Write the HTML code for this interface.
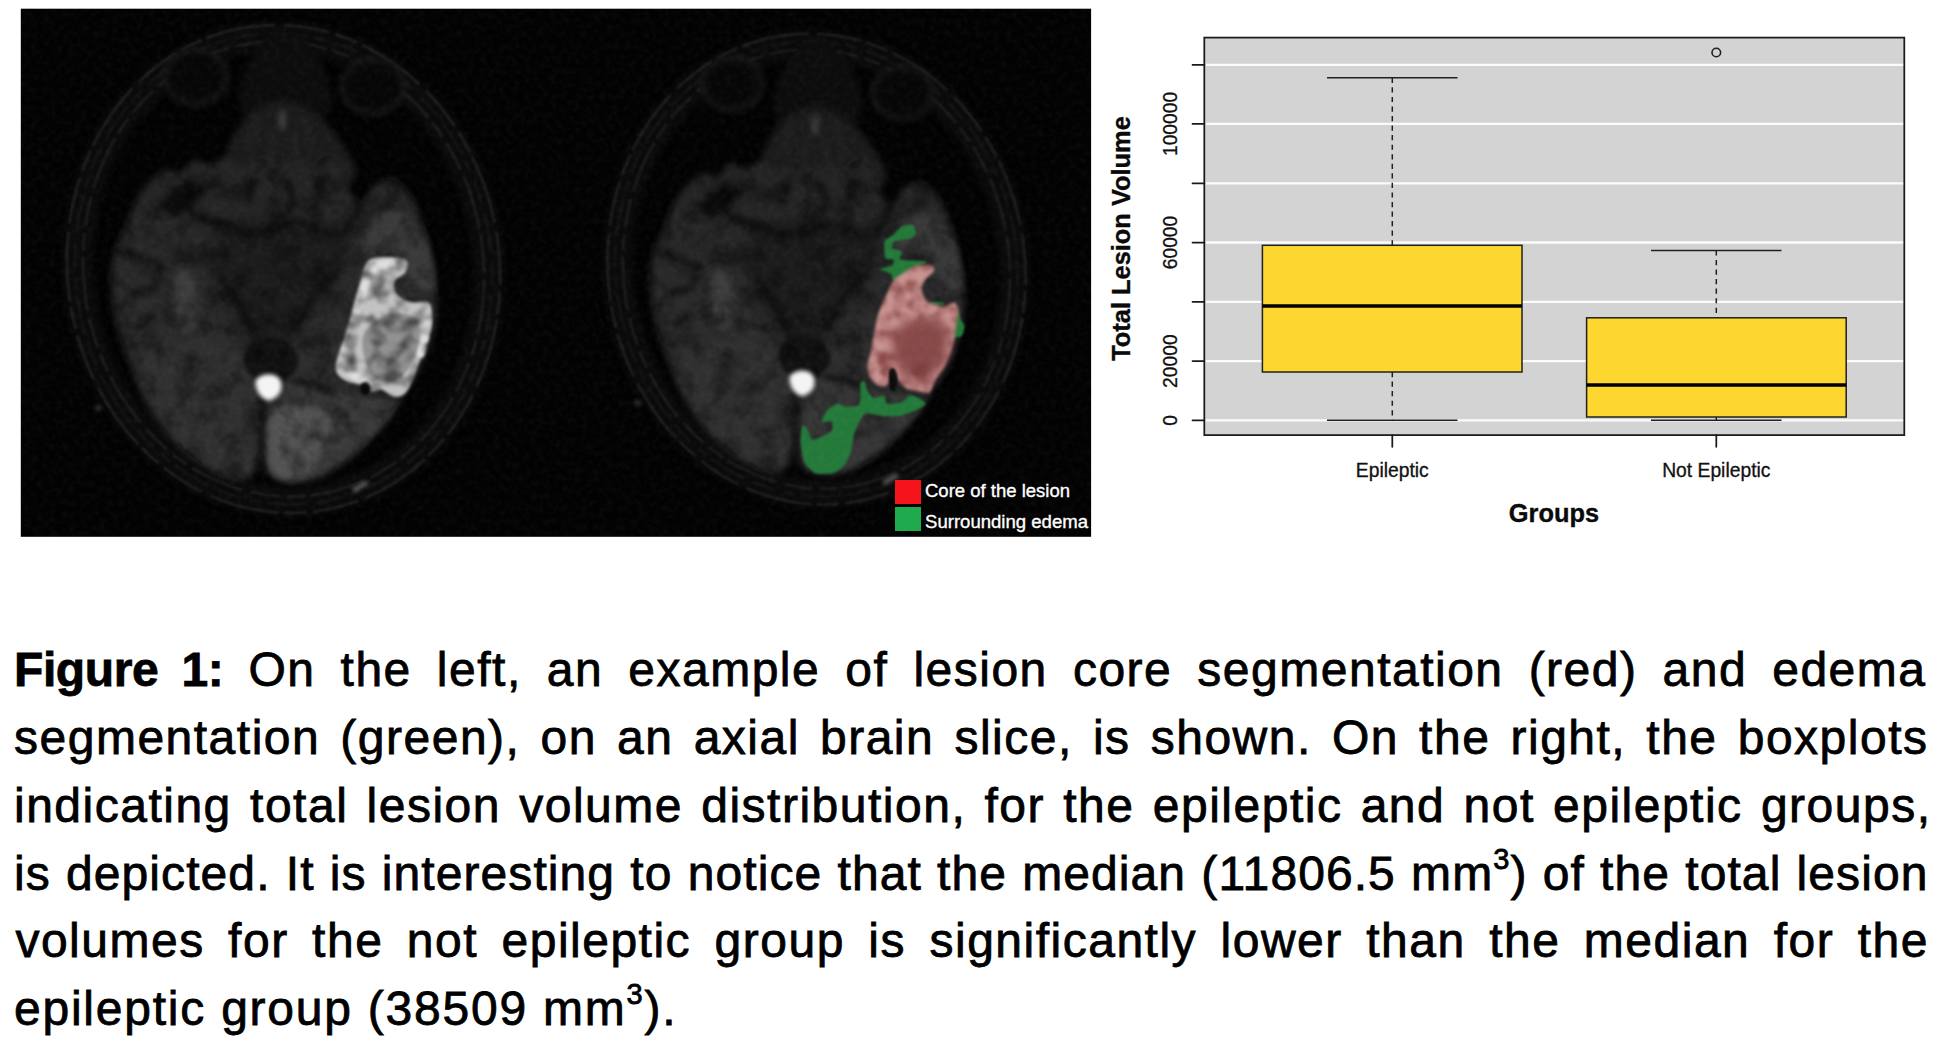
<!DOCTYPE html>
<html>
<head>
<meta charset="utf-8">
<title>Figure 1</title>
<style>
html,body{margin:0;padding:0;background:#fff;}
body{width:1944px;height:1046px;position:relative;overflow:hidden;font-family:"Liberation Sans",sans-serif;color:#000;}
#fig{position:absolute;left:0;top:0;width:1944px;height:1046px;}
svg text{font-family:"Liberation Sans",sans-serif;}
.cap{position:absolute;left:14px;width:1910px;height:60px;font-size:48px;line-height:60px;white-space:nowrap;color:#000;letter-spacing:1.5px;text-align:justify;text-align-last:justify;-webkit-text-stroke:0.8px #000;}
.cap b{font-weight:bold;letter-spacing:-0.4px;}
.cap sup{font-size:29px;line-height:0;vertical-align:baseline;position:relative;top:-21px;}
</style>
</head>
<body>
<svg id="fig" width="1944" height="1046" viewBox="0 0 1944 1046">
<defs>
<filter id="b2" color-interpolation-filters="sRGB" x="-20%" y="-20%" width="140%" height="140%"><feGaussianBlur stdDeviation="2"/></filter>
<filter id="b3" color-interpolation-filters="sRGB" x="-20%" y="-20%" width="140%" height="140%"><feGaussianBlur stdDeviation="3.2"/></filter>
<filter id="b6" color-interpolation-filters="sRGB" x="-30%" y="-30%" width="160%" height="160%"><feGaussianBlur stdDeviation="6"/></filter>
<filter id="b1" color-interpolation-filters="sRGB" x="-20%" y="-20%" width="140%" height="140%"><feGaussianBlur stdDeviation="1.1"/></filter>
<clipPath id="mriclip"><rect x="21" y="9" width="1070" height="528"/></clipPath>
<!--BRAINDEF-->
<linearGradient id="tg" gradientUnits="userSpaceOnUse" x1="0" y1="170" x2="0" y2="480"><stop offset="0" stop-color="#232323"/><stop offset="0.5" stop-color="#2b2b2b"/><stop offset="1" stop-color="#303030"/></linearGradient>
<filter id="nz" color-interpolation-filters="sRGB" x="0" y="0" width="100%" height="100%"><feTurbulence type="fractalNoise" baseFrequency="0.16" numOctaves="2" seed="7" result="t"/><feColorMatrix in="t" type="matrix" values="0 0 0 0 1  0 0 0 0 1  0 0 0 0 1  1.6 0 0 0 -0.62"/><feComposite in2="SourceGraphic" operator="in"/></filter>
<filter id="mott" color-interpolation-filters="sRGB" x="0" y="0" width="100%" height="100%"><feTurbulence type="fractalNoise" baseFrequency="0.045" numOctaves="3" seed="5" result="t"/><feColorMatrix in="t" type="matrix" values="0 0 0 0 0  0 0 0 0 0  0 0 0 0 0  2.6 0 0 0 -1.05"/><feComposite in2="SourceGraphic" operator="in"/></filter>
<clipPath id="tclip"><path d="M163.7 170.1C157.0 173.4 146.4 184.6 140.3 193.5C134.1 202.4 131.3 213.0 126.9 223.6C122.4 234.2 116.0 246.0 113.5 257.1C111.0 268.3 111.2 279.4 111.8 290.6C112.4 301.7 113.8 311.8 116.8 324.1C119.9 336.3 125.2 350.8 130.2 364.2C135.2 377.6 139.1 391.0 146.9 404.4C154.8 417.8 165.9 433.4 177.1 444.6C188.2 455.7 203.3 465.5 213.9 471.3C224.5 477.2 234.0 479.7 240.7 479.7C247.4 479.7 250.7 475.8 254.1 471.3C257.4 466.9 258.5 452.9 260.8 452.9C263.0 452.9 263.0 466.6 267.4 471.3C271.9 476.1 278.6 480.5 287.5 481.4C296.5 482.2 309.8 480.8 321.0 476.4C332.2 471.9 344.4 463.2 354.5 454.6C364.5 446.0 373.4 434.0 381.3 424.5C389.1 415.0 394.6 407.7 401.3 397.7C408.0 387.7 415.8 376.5 421.4 364.2C427.0 352.0 432.5 337.4 434.8 324.1C437.2 310.7 436.6 297.3 435.5 283.9C434.4 270.5 431.6 257.1 428.1 243.7C424.7 230.3 420.3 214.2 414.7 203.6C409.1 193.0 401.3 183.2 394.6 180.1C387.9 177.1 380.1 181.2 374.6 185.1C369.0 189.1 365.6 203.3 361.2 203.6C356.7 203.8 350.6 193.5 347.8 186.8C345.0 180.1 347.8 168.7 344.4 163.4C341.1 158.1 333.3 154.7 327.7 155.0C322.1 155.3 316.5 164.8 311.0 165.1C305.4 165.3 299.8 156.4 294.2 156.7C288.6 157.0 283.1 166.5 277.5 166.7C271.9 167.0 266.3 158.4 260.8 158.4C255.2 158.4 249.6 167.0 244.0 166.7C238.4 166.5 232.9 157.0 227.3 156.7C221.7 156.4 216.1 164.5 210.5 165.1C205.0 165.6 198.8 158.6 193.8 160.0C188.8 161.4 185.4 171.8 180.4 173.4C175.4 175.1 170.4 166.7 163.7 170.1Z"/></clipPath>
<filter id="grain" color-interpolation-filters="sRGB" x="-10%" y="-10%" width="120%" height="120%"><feTurbulence type="fractalNoise" baseFrequency="0.07" numOctaves="2" seed="11" result="n"/><feColorMatrix in="n" type="matrix" values="0 0 0 0 0  0 0 0 0 0  0 0 0 0 0  1.3 0 0 0 -0.5" result="a"/><feComposite in="a" in2="SourceGraphic" operator="in" result="dark"/><feMerge result="m"><feMergeNode in="SourceGraphic"/><feMergeNode in="dark"/></feMerge><feGaussianBlur in="m" stdDeviation="1.5"/></filter>
<filter id="grain2" color-interpolation-filters="sRGB" x="-10%" y="-10%" width="120%" height="120%"><feTurbulence type="fractalNoise" baseFrequency="0.085" numOctaves="2" seed="11" result="n"/><feColorMatrix in="n" type="matrix" values="0 0 0 0 0.35  0 0 0 0 0.05  0 0 0 0 0.05  1.2 0 0 0 -0.45" result="a"/><feComposite in="a" in2="SourceGraphic" operator="in" result="dark"/><feMerge result="m"><feMergeNode in="SourceGraphic"/><feMergeNode in="dark"/></feMerge><feGaussianBlur in="m" stdDeviation="1.1"/></filter>
<g id="brain">
<g filter="url(#b3)">
<ellipse cx="283.5" cy="269.0" rx="205.0" ry="233.0" fill="none" stroke="#0a0a0a" stroke-width="30" transform="rotate(-8 283.5 269.0)"/>
</g>
<g filter="url(#b1)">
<ellipse cx="283.5" cy="269.0" rx="216.0" ry="244.5" fill="none" stroke="#222222" stroke-width="2.2" stroke-dasharray="46 7 23 5 70 9" transform="rotate(-8 283.5 269.0)"/>
<ellipse cx="283.5" cy="269.0" rx="200.0" ry="228.0" fill="none" stroke="#1e1e1e" stroke-width="2.4" stroke-dasharray="30 8 55 6 18 7" transform="rotate(-8 283.5 269.0)"/>
<ellipse cx="283.5" cy="269.0" rx="208.0" ry="236.0" fill="none" stroke="#161616" stroke-width="2" stroke-dasharray="12 9 25 9 40 6" transform="rotate(-8 283.5 269.0)"/>
</g>
<g filter="url(#b3)">
<ellipse cx="196.0" cy="77.0" rx="31" ry="27" fill="#060606" stroke="#1b1b1b" stroke-width="4"/>
<ellipse cx="373.0" cy="86.5" rx="31" ry="27" fill="#060606" stroke="#1b1b1b" stroke-width="4"/>
<path d="M250.0 60.0C257.5 46.7 273.3 30.0 285.0 30.0C296.7 30.0 312.5 46.7 320.0 60.0C327.5 73.3 333.3 96.7 330.0 110.0C326.7 123.3 310.0 135.0 300.0 140.0C290.0 145.0 280.0 145.0 270.0 140.0C260.0 135.0 243.3 123.3 240.0 110.0C236.7 96.7 242.5 73.3 250.0 60.0Z" fill="#0c0c0c"/>
</g>
<g filter="url(#b3)">
<path d="M221.9 175.6C219.8 166.3 226.1 154.1 229.5 145.3C232.9 136.5 237.1 128.9 242.1 122.6C247.2 116.3 253.0 111.2 259.8 107.4C266.5 103.6 274.9 99.9 282.5 99.9C290.1 99.9 298.1 103.6 305.2 107.4C312.4 111.2 319.1 116.3 325.4 122.6C331.7 128.9 338.0 136.5 343.1 145.3C348.1 154.1 359.1 166.3 355.7 175.6C352.3 184.8 335.1 196.2 322.9 200.8C310.7 205.4 296.0 203.3 282.5 203.3C269.0 203.3 252.2 205.4 242.1 200.8C232.0 196.2 224.0 184.8 221.9 175.6Z" fill="#1a1a1a"/>
<path d="M163.7 170.1C157.0 173.4 146.4 184.6 140.3 193.5C134.1 202.4 131.3 213.0 126.9 223.6C122.4 234.2 116.0 246.0 113.5 257.1C111.0 268.3 111.2 279.4 111.8 290.6C112.4 301.7 113.8 311.8 116.8 324.1C119.9 336.3 125.2 350.8 130.2 364.2C135.2 377.6 139.1 391.0 146.9 404.4C154.8 417.8 165.9 433.4 177.1 444.6C188.2 455.7 203.3 465.5 213.9 471.3C224.5 477.2 234.0 479.7 240.7 479.7C247.4 479.7 250.7 475.8 254.1 471.3C257.4 466.9 258.5 452.9 260.8 452.9C263.0 452.9 263.0 466.6 267.4 471.3C271.9 476.1 278.6 480.5 287.5 481.4C296.5 482.2 309.8 480.8 321.0 476.4C332.2 471.9 344.4 463.2 354.5 454.6C364.5 446.0 373.4 434.0 381.3 424.5C389.1 415.0 394.6 407.7 401.3 397.7C408.0 387.7 415.8 376.5 421.4 364.2C427.0 352.0 432.5 337.4 434.8 324.1C437.2 310.7 436.6 297.3 435.5 283.9C434.4 270.5 431.6 257.1 428.1 243.7C424.7 230.3 420.3 214.2 414.7 203.6C409.1 193.0 401.3 183.2 394.6 180.1C387.9 177.1 380.1 181.2 374.6 185.1C369.0 189.1 365.6 203.3 361.2 203.6C356.7 203.8 350.6 193.5 347.8 186.8C345.0 180.1 347.8 168.7 344.4 163.4C341.1 158.1 333.3 154.7 327.7 155.0C322.1 155.3 316.5 164.8 311.0 165.1C305.4 165.3 299.8 156.4 294.2 156.7C288.6 157.0 283.1 166.5 277.5 166.7C271.9 167.0 266.3 158.4 260.8 158.4C255.2 158.4 249.6 167.0 244.0 166.7C238.4 166.5 232.9 157.0 227.3 156.7C221.7 156.4 216.1 164.5 210.5 165.1C205.0 165.6 198.8 158.6 193.8 160.0C188.8 161.4 185.4 171.8 180.4 173.4C175.4 175.1 170.4 166.7 163.7 170.1Z" fill="url(#tg)"/>
<path d="M140.3 364.2C142.8 354.7 157.0 354.7 167.0 350.8C177.1 346.9 189.9 340.8 200.5 340.8C211.1 340.8 222.8 345.8 230.6 350.8C238.4 355.9 242.6 362.0 247.4 370.9C252.1 379.8 257.1 391.0 259.1 404.4C261.0 417.8 261.0 439.8 259.1 451.3C257.1 462.7 253.8 469.9 247.4 473.0C240.9 476.1 231.7 474.4 220.6 469.7C209.4 464.9 191.9 454.9 180.4 444.6C169.0 434.2 158.7 421.1 152.0 407.7C145.3 394.4 137.7 373.7 140.3 364.2Z" fill="#303030"/>
<path d="M267.4 404.4C269.6 390.4 274.1 388.2 280.8 384.3C287.5 380.4 298.7 379.8 307.6 381.0C316.5 382.1 326.0 387.7 334.4 391.0C342.8 394.4 348.3 399.7 357.8 401.0C367.3 402.4 384.6 398.8 391.3 399.4C398.0 399.9 399.7 399.7 398.0 404.4C396.3 409.1 388.5 419.5 381.3 427.8C374.0 436.2 364.5 446.5 354.5 454.6C344.4 462.7 332.2 471.9 321.0 476.4C309.8 480.8 296.3 482.8 287.5 481.4C278.7 480.0 271.5 480.8 268.1 468.0C264.8 455.2 265.3 418.3 267.4 404.4Z" fill="#363636"/>
</g>
<g filter="url(#b6)">
<path d="M220.6 227.0C227.6 222.0 241.8 218.3 254.1 216.9C266.3 215.6 280.8 216.9 294.2 218.6C307.6 220.3 325.5 221.7 334.4 227.0C343.3 232.3 347.8 240.9 347.8 250.4C347.8 259.9 340.5 273.8 334.4 283.9C328.3 293.9 317.7 301.7 311.0 310.7C304.3 319.6 299.2 328.5 294.2 337.4C289.2 346.4 286.4 359.8 280.8 364.2C275.3 368.7 266.3 368.7 260.8 364.2C255.2 359.8 252.9 346.9 247.4 337.4C241.8 328.0 232.9 317.4 227.3 307.3C221.7 297.3 216.4 287.2 213.9 277.2C211.4 267.2 211.1 255.4 212.2 247.1C213.3 238.7 213.6 232.0 220.6 227.0Z" fill="#1c1c1c"/>
</g>
<g filter="url(#b3)">
<path d="M177.1 273.8C179.3 268.8 183.8 267.7 187.1 270.5C190.5 273.3 195.2 283.3 197.2 290.6C199.1 297.8 199.9 307.3 198.8 314.0C197.7 320.7 193.8 328.5 190.5 330.8C187.1 333.0 181.5 332.4 178.7 327.4C176.0 322.4 174.0 309.6 173.7 300.6C173.4 291.7 174.8 278.9 177.1 273.8Z" fill="#3d3d3d"/>
<path d="M116.8 250.4C121.8 252.1 139.1 257.7 146.9 260.5C154.8 263.2 160.9 266.0 163.7 267.2" fill="none" stroke="#0e0e0e" stroke-width="6" stroke-linecap="round"/>
<path d="M133.6 293.9C136.9 293.1 150.3 289.7 153.6 288.9" fill="none" stroke="#0e0e0e" stroke-width="6" stroke-linecap="round"/>
<path d="M136.9 327.4C139.4 325.7 149.5 319.0 152.0 317.4" fill="none" stroke="#0e0e0e" stroke-width="6" stroke-linecap="round"/>
<path d="M170.4 186.8C174.3 191.3 185.4 206.9 193.8 213.6C202.2 220.3 216.1 224.8 220.6 227.0" fill="none" stroke="#0e0e0e" stroke-width="6" stroke-linecap="round"/>
<path d="M361.2 203.6C358.9 207.5 352.8 221.4 347.8 227.0C342.8 232.6 333.8 235.4 331.0 237.0" fill="none" stroke="#0e0e0e" stroke-width="6" stroke-linecap="round"/>
<path d="M220.6 277.2C223.9 282.2 235.1 297.3 240.7 307.3C246.2 317.4 251.8 332.4 254.1 337.4" fill="none" stroke="#0e0e0e" stroke-width="6" stroke-linecap="round"/>
<path d="M334.4 273.8C330.5 278.3 317.7 291.1 311.0 300.6C304.3 310.1 297.0 325.7 294.2 330.8" fill="none" stroke="#0e0e0e" stroke-width="6" stroke-linecap="round"/>
<path d="M262.4 397.7C262.4 410.0 262.4 459.1 262.4 471.3" fill="none" stroke="#0e0e0e" stroke-width="6" stroke-linecap="round"/>
<path d="M217.2 220.3C223.4 222.5 241.2 233.4 254.1 233.7C266.9 234.0 282.0 222.0 294.2 222.0C306.5 222.0 322.1 231.7 327.7 233.7" fill="none" stroke="#0e0e0e" stroke-width="6" stroke-linecap="round"/>
<path d="M287.5 183.5C288.6 186.8 295.3 198.0 294.2 203.6C293.1 209.1 283.1 214.7 280.8 216.9" fill="none" stroke="#0e0e0e" stroke-width="6" stroke-linecap="round"/>
<path d="M254.1 180.1C252.9 183.5 248.5 196.9 247.4 200.2" fill="none" stroke="#0e0e0e" stroke-width="6" stroke-linecap="round"/>
<path d="M321.0 180.1C319.9 184.6 315.4 202.4 314.3 206.9" fill="none" stroke="#0e0e0e" stroke-width="6" stroke-linecap="round"/>
<path d="M294.2 381.0C297.6 381.5 307.6 382.1 314.3 384.3C321.0 386.5 331.0 392.7 334.4 394.4" fill="none" stroke="#0e0e0e" stroke-width="6" stroke-linecap="round"/>
<path d="M158.8 203.3L189.1 178.1L206.8 191.7L174.0 218.0Z" fill="#0c0c0c"/>
<path d="M282.5 112.5C282.4 115.0 282.1 125.1 282.0 127.6" fill="none" stroke="#5a5a5a" stroke-width="4" stroke-linecap="round"/>
<path d="M257.3 117.5C256.0 123.0 250.9 144.9 249.7 150.3" fill="none" stroke="#222222" stroke-width="5" stroke-linecap="round"/>
<path d="M302.7 117.5C304.4 123.4 311.1 147.0 312.8 152.9" fill="none" stroke="#222222" stroke-width="5" stroke-linecap="round"/>
<path d="M272.4 135.2C272.0 141.1 270.3 164.6 269.9 170.5" fill="none" stroke="#222222" stroke-width="5" stroke-linecap="round"/>
<path d="M292.6 135.2C293.3 141.1 296.0 164.6 296.6 170.5" fill="none" stroke="#222222" stroke-width="5" stroke-linecap="round"/>
</g>
<g filter="url(#b2)">
<path d="M247.4 347.5C251.0 342.5 260.2 337.7 267.4 337.4C274.7 337.2 285.9 341.4 290.9 345.8C295.9 350.3 298.7 358.4 297.6 364.2C296.5 370.1 290.3 378.2 284.2 381.0C278.0 383.8 267.2 383.2 260.8 381.0C254.3 378.7 247.9 373.2 245.7 367.6C243.5 362.0 243.7 352.5 247.4 347.5Z" fill="#111111"/>
<circle cx="98.4" cy="407.7" r="3" fill="#3a3a3a"/>
<path d="M354.5 489.7C356.4 488.6 364.2 484.2 366.2 483.1" fill="none" stroke="#6a6a6a" stroke-width="4" stroke-linecap="round"/>
</g>
</g>
<g id="mot" clip-path="url(#tclip)"><rect x="60" y="150" width="440" height="350" fill="#000" filter="url(#mott)" opacity="0.38"/></g>
<g id="spot" filter="url(#b2)"><path d="M255.7 381.0C256.5 377.8 260.4 375.9 263.4 374.9C266.5 373.9 271.2 373.9 274.1 374.9C277.0 375.9 279.9 378.0 280.8 381.0C281.8 383.9 281.8 389.4 279.8 392.7C277.9 395.9 272.6 400.2 269.1 400.4C265.7 400.5 261.3 396.9 259.1 393.7C256.8 390.4 255.0 384.1 255.7 381.0Z" fill="#f4f4f4"/></g>
<!--/BRAINDEF-->
</defs>
<!-- MRI panel -->
<rect x="20.8" y="8.7" width="1070.3" height="528.1" fill="#020202"/>
<g clip-path="url(#mriclip)">
<!--MRI-->
<use href="#brain"/>
<g filter="url(#b3)">
<path d="M334.4 394.4C340.0 390.2 351.7 398.5 361.2 399.4C370.7 400.2 387.9 395.5 391.3 399.4C394.6 403.3 386.8 415.3 381.3 422.8C375.7 430.3 365.6 439.8 357.8 444.6C350.0 449.3 339.4 454.6 334.4 451.3C329.4 447.9 327.7 434.0 327.7 424.5C327.7 415.0 328.8 398.5 334.4 394.4Z" fill="#3a3a3a"/>
<path d="M269.1 417.8C271.2 408.9 275.5 409.7 280.8 407.7C286.1 405.8 293.7 405.5 300.9 406.1C308.2 406.6 319.3 407.5 324.4 411.1C329.4 414.7 331.6 421.1 331.0 427.8C330.5 434.5 324.4 444.0 321.0 451.3C317.7 458.5 315.4 466.6 311.0 471.3C306.5 476.1 299.8 478.9 294.2 479.7C288.6 480.5 281.8 479.4 277.5 476.4C273.1 473.3 269.5 471.1 268.1 461.3C266.7 451.5 267.0 426.7 269.1 417.8Z" fill="#525252"/>
<path d="M357.8 233.7C360.6 228.7 367.3 220.6 374.6 216.9C381.8 213.3 393.5 209.7 401.3 211.9C409.1 214.2 416.4 222.2 421.4 230.3C426.4 238.4 429.5 250.4 431.5 260.5C433.4 270.5 435.9 284.4 433.1 290.6C430.3 296.7 420.0 298.4 414.7 297.3C409.4 296.2 402.7 289.5 401.3 283.9C399.9 278.3 407.5 268.8 406.4 263.8C405.2 258.8 401.1 254.9 394.6 253.8C388.2 252.6 374.0 258.2 367.9 257.1C361.7 256.0 359.5 251.0 357.8 247.1C356.2 243.2 355.0 238.7 357.8 233.7Z" fill="#3a3a3a"/>
</g>
<use href="#mot"/><use href="#spot"/>
<g filter="url(#grain)">
<path d="M367.9 261.1C372.6 256.7 381.5 257.2 387.9 257.1C394.4 257.0 403.5 257.9 406.4 260.5C409.3 263.0 407.3 268.7 405.4 272.2C403.4 275.6 396.1 277.6 394.6 281.2C393.2 284.8 393.9 290.4 396.7 293.9C399.4 297.4 406.1 300.9 411.4 302.3C416.6 303.7 424.7 299.8 428.1 302.3C431.6 304.8 432.3 311.5 432.1 317.4C432.0 323.2 429.3 329.6 427.1 337.4C424.9 345.3 422.1 355.3 418.7 364.2C415.4 373.2 411.0 385.6 407.0 391.0C403.0 396.4 398.8 396.9 394.6 396.7C390.5 396.5 385.8 390.5 381.9 389.7C378.0 388.8 374.4 392.5 371.2 391.7C368.0 390.9 366.8 386.7 362.8 385.0C358.9 383.3 352.2 384.0 347.8 381.6C343.3 379.3 337.5 376.1 336.1 370.9C334.7 365.8 337.5 357.5 339.4 350.8C341.4 344.1 345.6 338.0 347.8 330.8C350.0 323.5 350.9 315.1 352.8 307.3C354.8 299.5 357.0 291.6 359.5 283.9C362.0 276.2 363.1 265.6 367.9 261.1Z" fill="#c2c2c2"/>
<path d="M371.2 324.1C376.0 320.2 384.0 315.1 391.3 314.0C398.5 312.9 410.0 313.5 414.7 317.4C419.5 321.3 420.3 329.6 419.7 337.4C419.2 345.3 415.6 357.0 411.4 364.2C407.2 371.5 400.8 378.7 394.6 381.0C388.5 383.2 379.6 381.5 374.6 377.6C369.5 373.7 366.5 364.2 364.5 357.5C362.6 350.8 361.7 343.0 362.8 337.4C364.0 331.9 366.5 328.0 371.2 324.1Z" fill="#909090"/>
<path d="M344.4 350.8C346.7 343.6 353.4 320.7 357.8 307.3C362.3 293.9 365.1 278.0 371.2 270.5C377.4 263.0 390.7 263.5 394.6 262.1" fill="none" stroke="#dedede" stroke-width="8" stroke-linecap="round" stroke-dasharray="7 6 12 5 4 7"/>
<path d="M342.8 367.6C345.8 369.8 358.1 378.7 361.2 381.0" fill="none" stroke="#dedede" stroke-width="8" stroke-linecap="round" stroke-dasharray="7 6 12 5 4 7"/>
<path d="M424.8 307.3C425.3 310.1 429.0 315.7 428.1 324.1C427.3 332.4 421.1 352.0 419.7 357.5" fill="none" stroke="#dedede" stroke-width="8" stroke-linecap="round" stroke-dasharray="7 6 12 5 4 7"/>
<path d="M360.5 384.3C361.5 382.6 365.5 381.6 367.2 382.3C368.9 383.0 370.5 386.3 370.5 388.3C370.5 390.3 368.8 393.7 367.2 394.4C365.6 395.0 362.3 394.0 361.2 392.3C360.1 390.7 359.5 386.0 360.5 384.3Z" fill="#0a0a0a"/>
</g>
<g transform="translate(815.5 271.5) scale(0.965) translate(-282.5 -271.5)">
<use href="#brain"/>
<g filter="url(#b3)"><path d="M357.8 233.7C360.6 228.7 367.3 220.6 374.6 216.9C381.8 213.3 393.5 209.7 401.3 211.9C409.1 214.2 416.4 222.2 421.4 230.3C426.4 238.4 429.5 250.4 431.5 260.5C433.4 270.5 435.9 284.4 433.1 290.6C430.3 296.7 420.0 298.4 414.7 297.3C409.4 296.2 402.7 289.5 401.3 283.9C399.9 278.3 407.5 268.8 406.4 263.8C405.2 258.8 401.1 254.9 394.6 253.8C388.2 252.6 374.0 258.2 367.9 257.1C361.7 256.0 359.5 251.0 357.8 247.1C356.2 243.2 355.0 238.7 357.8 233.7Z" fill="#383838"/><path d="M334.4 394.4C340.0 390.2 351.7 398.5 361.2 399.4C370.7 400.2 387.9 395.5 391.3 399.4C394.6 403.3 386.8 415.3 381.3 422.8C375.7 430.3 365.6 439.8 357.8 444.6C350.0 449.3 339.4 454.6 334.4 451.3C329.4 447.9 327.7 434.0 327.7 424.5C327.7 415.0 328.8 398.5 334.4 394.4Z" fill="#343434"/></g>
<use href="#mot"/><use href="#spot"/>
</g>
<g filter="url(#b1)">
<path d="M901.9 226.3C903.9 225.4 911.6 224.1 913.0 224.9C914.4 225.8 916.2 233.3 915.8 234.6C915.4 236.0 911.0 238.1 908.8 238.8C906.7 239.5 895.8 240.6 894.2 241.6C892.5 242.5 891.7 247.5 892.5 248.5C893.3 249.5 901.1 250.2 901.9 251.3C902.7 252.4 898.3 258.5 900.8 259.6C903.3 260.6 925.4 260.8 926.9 261.5C928.4 262.3 918.0 265.9 915.8 267.1C913.6 268.2 906.9 271.8 904.7 273.2C902.5 274.5 895.0 280.9 893.6 280.9C892.2 281.0 892.2 274.9 890.8 273.7C889.4 272.5 879.6 270.1 879.8 269.3C879.9 268.4 890.6 266.3 891.9 265.4C893.3 264.4 894.3 260.6 893.6 259.9C892.9 259.1 886.2 260.0 885.3 258.2C884.4 256.4 883.9 243.9 884.7 241.6C885.6 239.2 891.9 236.2 893.6 234.6C895.3 233.1 900.0 227.3 901.9 226.3Z" fill="#23793a"/>
<path d="M953.7 313.1C954.1 311.8 958.3 311.3 959.0 311.9C959.7 312.6 960.1 317.7 960.7 319.1C961.2 320.6 964.4 324.4 964.5 326.1C964.6 327.7 962.9 334.6 961.8 335.8C960.7 336.9 954.1 338.5 953.5 337.4C952.8 336.3 955.1 327.1 955.1 324.7C955.1 322.2 953.3 314.3 953.7 313.1Z" fill="#23793a"/>
<path d="M860.4 382.9C860.8 381.6 864.1 380.7 864.8 381.5C865.5 382.3 866.6 389.5 867.6 391.2C868.5 392.9 872.6 397.7 874.2 398.1C875.8 398.6 882.6 395.1 883.9 395.6C885.2 396.2 885.2 403.0 887.0 403.7C888.8 404.3 899.6 403.1 901.9 402.3C904.2 401.5 908.6 396.0 910.2 395.6C911.9 395.2 917.0 397.3 918.5 398.1C920.1 398.9 926.0 402.4 925.7 403.7C925.5 404.9 918.4 409.3 915.8 410.6C913.1 411.8 902.5 415.6 899.1 416.1C895.8 416.7 885.8 416.4 882.5 416.1C879.2 415.8 868.2 412.8 865.9 413.4C863.6 413.9 860.5 419.5 859.2 421.7C858.0 423.9 854.5 432.5 853.7 435.5C852.9 438.6 851.9 449.1 850.9 452.1C849.9 455.2 845.6 463.9 843.7 466.0C841.9 468.1 835.4 472.5 832.6 473.2C829.9 473.9 818.8 474.2 816.0 473.2C813.3 472.2 806.5 466.2 804.9 463.2C803.4 460.3 801.1 447.6 800.8 443.8C800.5 440.1 801.5 427.2 802.2 425.8C802.9 424.4 806.7 428.6 807.7 430.0C808.7 431.4 810.5 439.1 812.1 439.7C813.8 440.2 822.3 436.5 824.3 435.5C826.4 434.6 831.9 431.4 832.6 430.0C833.4 428.6 832.6 422.5 831.5 421.7C830.4 420.8 822.0 422.8 821.6 421.7C821.1 420.6 825.6 412.4 827.1 410.6C828.7 408.8 835.1 404.0 837.1 403.7C839.0 403.3 844.3 406.6 846.5 406.7C848.7 406.8 857.6 406.3 859.0 405.0C860.4 403.8 860.5 396.2 860.6 394.0C860.8 391.7 859.9 384.1 860.4 382.9Z" fill="#23793a"/>
<path d="M931.0 302.0C932.3 301.8 942.2 302.2 943.5 302.5C944.7 302.8 944.7 304.6 943.5 304.7C942.2 304.9 932.3 304.5 931.0 304.2C929.8 303.9 929.8 302.1 931.0 302.0Z" fill="#23793a"/>
<g filter="url(#grain2)"><path d="M931.0 265.1C933.1 265.7 934.8 268.9 934.1 270.7C933.3 272.4 926.1 278.2 924.6 280.4C923.2 282.5 921.1 286.8 921.3 289.2C921.6 291.6 924.3 299.1 926.9 301.1C929.4 303.2 940.2 306.5 943.5 306.7C946.7 306.8 952.8 302.0 954.6 302.5C956.3 303.0 958.5 308.2 958.7 310.8C958.9 313.4 956.9 320.8 956.2 324.7C955.6 328.6 954.3 339.6 953.2 344.1C952.0 348.6 948.4 359.3 946.3 363.5C944.1 367.7 937.1 376.7 935.2 380.1C933.2 383.5 931.6 391.3 929.6 392.6C927.7 393.9 921.3 391.7 918.5 391.2C915.8 390.7 908.4 389.6 906.1 388.4C903.7 387.2 900.3 382.0 898.6 380.7C896.9 379.4 892.8 376.8 891.4 377.3C890.0 377.9 888.2 384.7 886.7 385.6C885.2 386.6 880.3 386.6 878.4 385.6C876.4 384.7 871.3 379.6 870.1 377.3C868.8 375.1 867.1 369.5 867.3 366.3C867.4 363.0 870.6 353.5 871.4 349.6C872.2 345.7 873.4 337.2 874.2 333.0C875.0 328.8 876.9 318.1 878.4 313.6C879.8 309.1 884.9 298.1 886.7 294.2C888.5 290.3 891.5 282.9 893.6 280.4C895.7 277.8 902.1 273.8 904.7 272.0C907.3 270.3 912.7 266.5 915.8 265.7C918.8 264.9 928.9 264.5 931.0 265.1Z" fill="#c89391"/></g>
<path d="M889.4 370.4C890.4 367.6 893.6 367.4 895.0 369.0C896.4 370.6 898.0 376.4 897.8 380.1C897.5 383.8 895.0 390.3 893.6 391.2C892.2 392.1 890.1 389.1 889.4 385.6C888.8 382.2 888.5 373.2 889.4 370.4Z" fill="#0a0a0a"/>
</g>
<g filter="url(#b6)"><path d="M899.1 330.2C902.6 326.1 907.5 321.0 913.0 319.1C918.5 317.3 926.9 317.8 932.4 319.1C937.9 320.5 943.7 322.8 946.3 327.5C948.8 332.1 948.6 340.4 947.6 346.9C946.7 353.3 944.2 360.9 940.7 366.3C937.2 371.6 931.9 376.9 926.9 378.7C921.8 380.6 915.3 379.9 910.2 377.3C905.2 374.8 899.4 369.0 896.4 363.5C893.4 357.9 891.8 349.6 892.2 344.1C892.7 338.5 895.7 334.4 899.1 330.2Z" fill="#874848"/></g>
<g filter="url(#b2)"><path d="M878.4 355.2C879.7 353.3 883.7 351.5 885.3 352.4C886.9 353.3 888.5 358.4 888.1 360.7C887.6 363.0 884.3 365.8 882.5 366.3C880.8 366.7 878.2 365.3 877.5 363.5C876.8 361.6 877.1 357.0 878.4 355.2Z" fill="#8a4a4a"/><path d="M913.0 366.3C914.9 364.5 921.8 362.3 924.1 363.5C926.4 364.6 927.8 370.9 926.9 373.2C925.9 375.5 920.9 377.2 918.5 377.3C916.1 377.5 913.4 375.9 912.4 374.0C911.5 372.2 911.1 368.0 913.0 366.3Z" fill="#7e3f3f"/></g>
<rect x="21" y="9" width="1070" height="528" fill="#fff" filter="url(#nz)" opacity="0.04"/>
<rect x="895" y="480" width="26" height="24" fill="#f5141c"/>
<rect x="895" y="507" width="26" height="24" fill="#1faa4d"/>
<g fill="#ffffff" font-size="18.6" stroke="#fff" stroke-width="0.35"><text x="925" y="497.3" textLength="145" lengthAdjust="spacingAndGlyphs">Core of the lesion</text><text x="925" y="528.3" textLength="163" lengthAdjust="spacingAndGlyphs">Surrounding edema</text></g>
<!--/MRI-->
</g>
<!-- Boxplot -->
<g id="plot">
<rect x="1204.5" y="37.5" width="700" height="397.5" fill="#d3d3d3"/>
<g stroke="#fbfbfb" stroke-width="2.3">
<line x1="1205" x2="1904" y1="64.9" y2="64.9"/>
<line x1="1205" x2="1904" y1="123.9" y2="123.9"/>
<line x1="1205" x2="1904" y1="183.3" y2="183.3"/>
<line x1="1205" x2="1904" y1="242.5" y2="242.5"/>
<line x1="1205" x2="1904" y1="301.8" y2="301.8"/>
<line x1="1205" x2="1904" y1="361.1" y2="361.1"/>
<line x1="1205" x2="1904" y1="420.3" y2="420.3"/>
</g>
<!-- box 1 -->
<g stroke="#202020" stroke-width="1.5" fill="none">
<line x1="1392.3" x2="1392.3" y1="77.8" y2="245.3" stroke-dasharray="5.2 4.35"/>
<line x1="1392.3" x2="1392.3" y1="372" y2="420.3" stroke-dasharray="5.2 4.35"/>
<line x1="1327" x2="1457.5" y1="77.8" y2="77.8"/>
<line x1="1327" x2="1457.5" y1="420.3" y2="420.3"/>
<rect x="1262.4" y="245.3" width="259.6" height="126.7" fill="#fdd630"/>
<!-- box 2 -->
<line x1="1716.3" x2="1716.3" y1="250.4" y2="317.8" stroke-dasharray="5.2 4.35"/>
<line x1="1716.3" x2="1716.3" y1="417" y2="420.3"/>
<line x1="1651" x2="1781.5" y1="250.4" y2="250.4"/>
<line x1="1651" x2="1781.5" y1="420.3" y2="420.3"/>
<rect x="1586.6" y="317.8" width="259.6" height="99.2" fill="#fdd630"/>
<circle cx="1716.3" cy="52.5" r="4.3" stroke-width="1.6"/>
</g>
<g stroke="#000" stroke-width="3.5">
<line x1="1262.4" x2="1522" y1="306.1" y2="306.1"/>
<line x1="1586.6" x2="1846.2" y1="385.1" y2="385.1"/>
</g>
<!-- frame and ticks -->
<g stroke="#1a1a1a" stroke-width="1.75" fill="none" stroke-linecap="round">
<rect x="1204.3" y="37.6" width="700" height="397.5"/>
<line x1="1192.5" x2="1204.5" y1="64.9" y2="64.9"/>
<line x1="1192.5" x2="1204.5" y1="123.9" y2="123.9"/>
<line x1="1192.5" x2="1204.5" y1="183.3" y2="183.3"/>
<line x1="1192.5" x2="1204.5" y1="242.5" y2="242.5"/>
<line x1="1192.5" x2="1204.5" y1="301.8" y2="301.8"/>
<line x1="1192.5" x2="1204.5" y1="361.1" y2="361.1"/>
<line x1="1192.5" x2="1204.5" y1="420.3" y2="420.3"/>
<line x1="1392.3" x2="1392.3" y1="435" y2="446.8"/>
<line x1="1716.3" x2="1716.3" y1="435" y2="446.8"/>
</g>
<g fill="#111" stroke="#111" stroke-width="0.3" font-size="19.3" text-anchor="middle">
<text x="1392.3" y="476.8">Epileptic</text>
<text x="1716.3" y="476.8">Not Epileptic</text>
<text transform="translate(1176.6,420.3) rotate(-90)">0</text>
<text transform="translate(1176.6,361.1) rotate(-90)">20000</text>
<text transform="translate(1176.6,242.5) rotate(-90)">60000</text>
<text transform="translate(1176.6,123.9) rotate(-90)">100000</text>
</g>
<g fill="#0a0a0a" stroke="#0a0a0a" stroke-width="0.35" font-size="25.4" font-weight="bold" text-anchor="middle">
<text x="1554" y="522.4">Groups</text>
<text transform="translate(1130.3,238.5) rotate(-90)">Total Lesion Volume</text>
</g>
</g>
</svg>
<div class="cap" id="l1" style="top:639.6px;width:1912.5px"><b>Figure 1:</b> On the left, an example of lesion core segmentation (red) and edema</div>
<div class="cap" id="l2" style="top:707.6px;width:1914.5px">segmentation (green), on an axial brain slice, is shown. On the right, the boxplots</div>
<div class="cap" id="l3" style="top:775.5px;width:1917.5px">indicating total lesion volume distribution, for the epileptic and not epileptic groups,</div>
<div class="cap" id="l4" style="top:843.5px;letter-spacing:1.08px;width:1914.5px">is depicted. It is interesting to notice that the median (11806.5 mm<sup>3</sup>) of the total lesion</div>
<div class="cap" id="l5" style="top:911.4px;left:15.4px;width:1913.6px">volumes for the not epileptic group is significantly lower than the median for the</div>
<div class="cap" id="l6" style="top:979.4px;text-align:left;text-align-last:left;width:auto;letter-spacing:1.77px">epileptic group (38509 mm<sup>3</sup>).</div>
</body>
</html>
